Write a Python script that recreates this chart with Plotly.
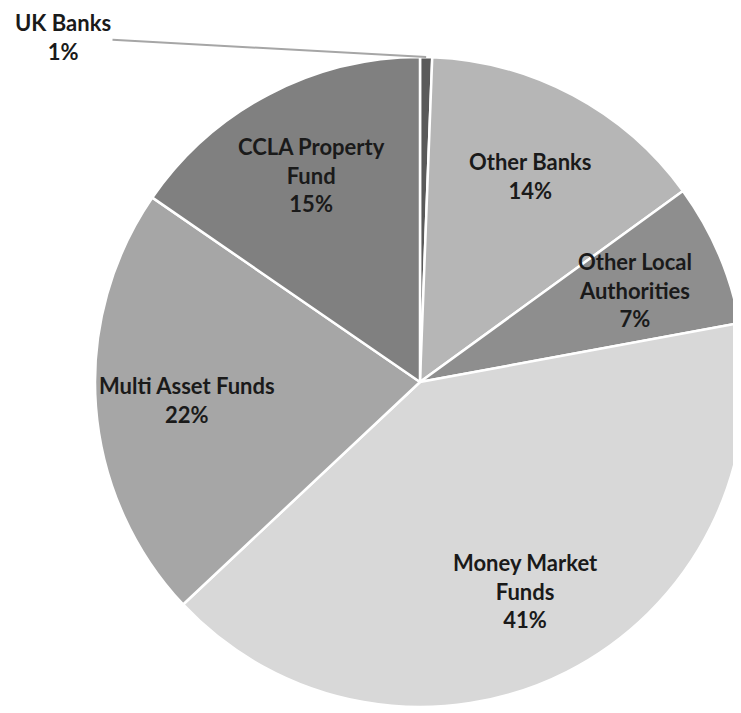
import math
import plotly.graph_objects as go

# investment portfolio split (%), clockwise from 12 o'clock
labels = ["UK Banks", "Other Banks", "Other Local Authorities", "Money Market Funds",
          "Multi Asset Funds", "CCLA Property Fund"]
display_names = ["UK Banks", "Other Banks", "Other Local<br>Authorities", "Money Market<br>Funds",
                 "Multi Asset Funds", "CCLA Property<br>Fund"]
values = [0.6, 14.4, 7.1, 40.9, 21.6, 15.4]
colors = ["#5a5a5a", "#b6b6b6", "#8e8e8e", "#d8d8d8", "#a6a6a6", "#808080"]

FONT = "Lato, Open Sans, Arial, sans-serif"
W, H = 741, 713
# pie centre / radius in figure pixels (page body adds an 8px offset)
CX, CY, R = 412, 374, 325

fig = go.Figure(go.Pie(
    labels=labels,
    values=values,
    textinfo="none",
    sort=False,
    direction="clockwise",
    rotation=0,
    marker=dict(colors=colors, line=dict(color="white", width=2.5)),
    domain=dict(x=[(CX - R) / W, (CX + R) / W], y=[1 - (CY + R) / H, 1 - (CY - R) / H]),
    showlegend=False,
    hoverinfo="label+percent",
))

# labels placed at the middle angle of each slice
total = sum(values)
cum = 0.0
for i, (name, v) in enumerate(zip(display_names, values)):
    mid = (cum + v / 2) / total * 2 * math.pi
    cum += v
    pct = round(v / total * 100)
    text = f"<b>{name}<br>{pct}%</b>"
    if i == 0:
        # UK Banks is too thin for an inside label: outside with leader line
        px_, py_ = CX + R * math.sin(mid), CY - R * math.cos(mid)
        fig.add_annotation(
            x=px_ / W, y=1 - py_ / H, xref="paper", yref="paper",
            ax=55 - px_, ay=29 - py_,
            text=text, showarrow=True, arrowhead=0, arrowwidth=2, arrowcolor="#a6a6a6",
            font=dict(family=FONT, size=22, color="#1a1a1a"),
        )
        continue
    r = 0.72 * R
    px_, py_ = CX + r * math.sin(mid), CY - r * math.cos(mid)
    fig.add_annotation(
        x=px_ / W, y=1 - py_ / H, xref="paper", yref="paper",
        xanchor="center", yanchor="middle",
        text=text, showarrow=False,
        font=dict(family=FONT, size=22, color="#1a1a1a"),
    )

fig.update_layout(
    width=W, height=H,
    margin=dict(l=0, r=0, t=0, b=0),
    paper_bgcolor="white",
)

fig.write_html("out.html")
